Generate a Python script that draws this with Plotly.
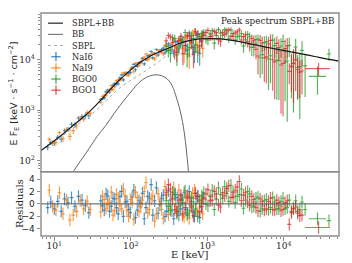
import plotly.graph_objects as go

# ---------------- model curves ----------------
tot_E = [6.3, 8, 10, 13, 17, 23, 30, 40, 52, 70, 95, 128, 174, 235, 318, 430, 580, 800, 1070, 1500, 2000, 3560, 6500, 11900, 20000, 30000, 52000]
tot_F = [150, 195, 250, 340, 480, 700, 1000, 1550, 2450, 3900, 5900, 8500, 11500, 14300, 17300, 21000, 24000, 25800, 26200, 25900, 24500, 20900, 17300, 14500, 12500, 11000, 9400]
bb_E = [14, 17.5, 22, 28.4, 36, 47, 60, 77.6, 100, 128, 160, 200, 240, 280, 318, 350, 388, 430, 474, 520, 569, 600]
bb_F = [35, 60, 100, 174, 300, 499, 850, 1435, 2300, 3540, 4500, 5000, 4950, 4500, 3800, 3000, 1950, 1150, 600, 230, 60, 30]
sbpl_E = [6.3, 10, 13, 17, 23, 30, 40, 52, 70, 95, 128, 174, 235, 318, 430, 580, 800, 1070, 1500, 2000, 3560, 6500, 11900, 20000, 30000, 52000]
sbpl_F = [150, 250, 320, 430, 610, 820, 1180, 1780, 2700, 3750, 4960, 6800, 9350, 13500, 19850, 23900, 25800, 26200, 25900, 24500, 20900, 17300, 14500, 12500, 11000, 9400]

# ---------------- NaI6 ----------------
nai6_E = [8.2, 9.0, 10.0, 11.1, 12.3, 13.6, 15.1, 16.8, 18.6, 20.7, 23.0, 25.5, 28.3,
          40.5, 45, 50, 55.5, 61.6, 68.4, 76, 84.3, 93.6, 104,
          115, 128, 142, 158, 175, 194, 216, 240, 266, 295,
          328, 364, 404, 448, 498, 552, 613, 681, 756, 839,
          42.7, 47.5, 52.7, 58.5, 65, 72, 80, 89, 98.7, 109.5,
          121.5, 135, 150, 166.5, 184.5, 205, 227.5, 252.5, 280, 311,
          345, 383, 425, 472, 524, 581, 645, 716, 795, 870]
nai6_F = [186, 230, 226, 293, 270, 395, 420, 532, 509, 698, 750, 781, 782,
          1635, 1767, 2509, 2624, 3379, 3357, 5016, 5207, 5435, 7108,
          6345, 8798, 10630, 10060, 12225, 10925, 15957, 14297, 17019, 15114,
          18974, 13457, 22624, 19436, 27360, 15745, 26438, 14000, 32232, 23051,
          1700, 2324, 2292, 3131, 3324, 4390, 4016, 5551, 5574, 8101,
          7412, 9085, 8270, 11978, 14604, 13403, 12494, 15902, 13726, 20643,
          15832, 23010, 16346, 23477, 18803, 33600, 17550, 30166, 13302, 31598]
nai6_err = [24, 27, 30, 34, 38, 43, 49, 57, 64, 73, 84, 97, 113,
            111, 133, 161, 189, 224, 265, 308, 357, 406, 462,
            525, 595, 665, 735, 805, 875, 945, 1015, 1085, 1155,
            2124, 2268, 2424, 2580, 2700, 5170, 5346, 5500, 5610, 5698,
            122, 146, 175, 206, 243, 284, 327, 378, 433, 491,
            558, 627, 696, 774, 840, 907, 977, 1047, 1117, 1706,
            2189, 2340, 2502, 2628, 4586, 4800, 5408, 5540, 5672, 5698]
nai6_res = [-0.6, 0.3, -0.8, 0.4, -1.2, 0.8, 0.2, 1.0, -0.4, 1.2, 0.6, -0.3, -1.4,
            0.5, -1.0, 1.3, -0.4, 0.8, -1.6, 2.0, 0.3, -0.9, 1.1,
            -2.2, 0.5, 1.7, -0.6, 0.9, -1.8, 2.6, -0.2, 1.4, -1.2,
            0.6, -2.4, 1.0, -0.8, 1.8, -1.5, 0.4, -2.0, 1.2, -0.5,
            -0.3, 1.6, -1.2, 0.9, -0.6, 1.2, -2.0, 0.4, -1.4, 2.2,
            -1.0, 0.2, -2.4, 1.2, 3.1, 0.5, -1.5, 0.9, -2.0, 2.1,
            -1.1, 1.5, -1.8, 0.6, -0.9, 2.0, -1.3, 0.9, -2.2, 1.0]

# ---------------- NaI9 ----------------
nai9_E = [8.6, 9.5, 10.5, 11.7, 13.0, 14.4, 16.0, 17.7, 19.6, 21.8, 24.2, 26.9, 29.5,
          42.7, 47.5, 52.7, 58.5, 65, 72, 80, 89, 98.7, 109.5,
          121.5, 135, 150, 166.5, 184.5, 205, 227.5, 252.5, 280, 311,
          345, 383, 425, 472, 524, 581, 645, 716, 795, 870,
          40.5, 45, 50, 55.5, 61.6, 68.4, 76, 84.3, 93.6, 104,
          115, 128, 142, 158, 175, 194, 216, 240, 266, 295,
          328, 364, 404, 448, 498, 552, 613, 681, 756, 839]
nai9_F = [267, 225, 233, 365, 275, 415, 305, 396, 491, 694, 677, 905, 871,
          1882, 1988, 2537, 2574, 3834, 3965, 5455, 4984, 6483, 5792,
          8528, 8646, 11332, 9967, 12672, 10412, 15524, 14018, 19088, 15030,
          20648, 18564, 26354, 16907, 27470, 11856, 33773, 19640, 27481, 16783,
          1436, 1993, 2268, 3059, 2954, 4018, 4154, 5564, 4988, 6739,
          8498, 7786, 9899, 12999, 10776, 13550, 11988, 14906, 13005, 18975,
          16213, 24797, 17049, 23564, 13050, 30080, 21092, 37100, 17646, 29319]
nai9_err = [25, 28, 32, 36, 41, 46, 53, 61, 69, 79, 90, 104, 117,
            122, 146, 175, 206, 243, 284, 327, 378, 433, 491,
            558, 627, 696, 774, 840, 907, 977, 1047, 1117, 1194,
            2189, 2340, 2502, 2628, 5045, 5280, 5408, 5540, 5672, 5698,
            111, 133, 161, 189, 224, 265, 308, 357, 406, 462,
            525, 595, 665, 735, 805, 875, 945, 1015, 1085, 1650,
            2124, 2268, 2424, 2580, 4500, 4700, 5346, 5500, 5610, 5698]
nai9_res = [2.2, -0.4, -1.0, 1.8, -1.6, 0.6, -2.6, -1.8, -1.2, 0.5, -0.8, 0.4, -0.9,
            1.2, -0.7, 0.2, -1.8, 1.5, -0.3, 2.4, -1.1, 0.7, -2.5,
            1.0, -0.5, 2.0, -1.4, 0.8, -2.8, 1.6, -0.9, 2.8, -1.7,
            1.1, -0.4, 2.2, -1.9, 0.9, -2.3, 1.7, -1.0, 0.3, -1.6,
            -1.3, 0.7, -0.2, 1.9, -1.1, 0.9, -0.8, 1.3, -2.0, 0.3,
            1.9, -1.2, 0.6, 3.4, -0.9, 1.2, -1.6, 0.4, -2.3, 1.5,
            -0.7, 2.6, -1.3, 0.8, -2.1, 1.4, -0.6, 2.2, -1.4, 0.6]

# ---------------- BGO0 ----------------
bgo0_E = [290, 330, 375, 425, 480, 545, 620, 700, 795, 900,
          1020, 1160, 1310, 1490, 1690, 1910, 2170, 2460, 2790, 3160,
          3580, 4060, 4600, 5220, 5920, 6710, 7610, 8630, 9780, 11100,
          12600, 14300, 16200, 19000,
          310, 352, 400, 453, 513, 582, 660, 748, 848, 960,
          1090, 1235, 1400, 1590, 1800, 2040, 2315, 2625, 2975, 3370,
          3820, 4330, 4910, 5570, 6310, 7160, 8110, 9200, 10400, 11800,
          13400, 15200, 17300]
bgo0_F = [18371, 13290, 26455, 18244, 23153, 12837, 30450, 20032, 28874, 35306,
          24581, 37627, 30183, 33670, 39484, 26698, 33051, 28682, 33063, 24829,
          29218, 17662, 25656, 12607, 22797, 11998, 18998, 9558, 22963, 9466,
          7415, 17888, 7304, 7550,
          15327, 27229, 12531, 25251, 34648, 17400, 26563, 14230, 33282, 26050,
          32488, 21377, 39459, 30220, 33500, 38992, 24471, 29549, 18570, 31815,
          17578, 24956, 10962, 21792, 10400, 24389, 9726, 18768, 9054, 19325,
          8622, 7025, 15387]
bgo0_err = [4083, 4430, 4810, 5213, 5513, 5835, 6090, 6260, 5156, 5192,
            5230, 5226, 5204, 5180, 5062, 4944, 4790, 4626, 4468, 5398,
            5218, 6021, 5787, 7416, 7124, 8570, 8260, 7965, 8448, 8874,
            5704, 8256, 6640, 5711,
            4258, 4615, 5013, 5373, 5680, 6000, 6178, 5590, 5694, 5210,
            5240, 5214, 5192, 5122, 5000, 4874, 4706, 4546, 4829, 5303,
            5723, 5895, 6615, 7264, 7866, 7569, 8105, 7820, 7545, 7992,
            7711, 5404, 7824]
bgo0_res = [0.5, -1.0, 1.5, -0.5, 0.2, -1.8, 1.0, -0.8, 0.6, 1.8,
            -0.3, 2.2, 0.8, 1.5, 2.8, 0.4, 1.9, 1.2, 2.4, 0.6,
            1.6, -0.4, 1.1, -0.8, 0.7, -0.6, 0.3, -0.8, 0.9, -0.6,
            -1.2, 0.5, -0.9, -0.9,
            -0.4, 1.9, -1.5, 0.7, 2.1, -1.1, 0.3, -2.0, 1.3, 0.0,
            1.2, -0.9, 2.6, 0.9, 1.7, 3.0, 0.2, 1.5, -0.7, 2.0,
            -0.5, 0.9, -1.2, 0.5, -0.9, 1.0, -0.8, 0.4, -0.8, 0.6,
            -0.7, -1.2, 0.3]
bgo0w_E = [27600, 39000]
bgo0w_F = [4706, 13000]
bgo0w_err = [2664, 3500]
bgo0w_lo = [6400, 2500]
bgo0w_hi = [8300, 2500]
bgo0w_res = [-2.4, -2.7]

# ---------------- BGO1 ----------------
bgo1_E = [310, 352, 400, 453, 513, 582, 660, 748, 848, 960,
          1090, 1235, 1400, 1590, 1800, 2040, 2315, 2625, 2975, 3370,
          3820, 4330, 4910, 5570, 6310, 7160, 8110, 9200, 10400, 11800,
          13400, 15200, 17300,
          290, 330, 375, 425, 480, 545, 620, 700, 795, 900,
          1020, 1160, 1310, 1490, 1690, 1910, 2170, 2460, 2790, 3160,
          3580, 4060, 4600, 5220, 5920, 6710, 7610, 8630, 9780, 11100,
          12600, 14300, 16200]
bgo1_F = [30228, 22152, 14035, 29012, 19312, 29400, 12974, 32119, 23603, 34386,
          28820, 36498, 24922, 34830, 37500, 29244, 33883, 39095, 28710, 22801,
          26572, 16113, 24192, 10896, 20626, 10008, 21073, 7899, 16750, 5900,
          8412, 6418, 6000,
          23679, 28352, 14911, 23978, 13230, 29758, 22533, 35682, 18974, 30114,
          38179, 29266, 34346, 23310, 31891, 39058, 29219, 35620, 24574, 31306,
          19826, 24285, 11863, 21506, 11399, 24082, 9086, 17523, 8448, 18857,
          7272, 9976, 5711]
bgo1_err = [4258, 4615, 5013, 5373, 5680, 6000, 6178, 5590, 5694, 5210,
            5240, 5214, 5192, 5122, 5000, 4874, 4706, 4546, 4829, 5303,
            5110, 5895, 6615, 7264, 7866, 7569, 8105, 7038, 8300, 2615,
            7010, 4729, 3912,
            4083, 4430, 4810, 5213, 5513, 5835, 6090, 6260, 5672, 5192,
            5230, 5226, 5204, 5180, 5062, 4944, 4790, 4626, 4468, 5398,
            5218, 6021, 6752, 7416, 8015, 7713, 7434, 7965, 7680, 8135,
            4991, 7568, 3984]
bgo1_res = [3.1, 0.8, -1.2, 1.4, -0.6, 0.9, -1.9, 1.2, -0.4, 1.6,
            0.5, 2.0, -0.2, 1.8, 2.5, 1.0, 2.2, 3.6, 1.4, 0.3,
            1.2, -0.6, 0.8, -1.0, 0.4, -0.9, 0.6, -1.1, 0.2, -3.3,
            -0.8, -1.5, -1.8,
            1.8, 2.4, -0.9, 0.6, -1.6, 1.1, -0.3, 1.7, -1.2, 0.8,
            2.3, 0.6, 1.6, -0.5, 1.3, 2.9, 1.1, 2.7, 0.5, 1.8,
            -0.2, 0.7, -1.1, 0.4, -0.8, 0.9, -1.0, 0.2, -0.9, 0.5,
            -1.4, -0.5, -1.9]
bgo1w_E = [28500]
bgo1w_F = [6700]
bgo1w_err = [1900]
bgo1w_lo = [9500]
bgo1w_hi = [11500]
bgo1w_res = [-3.8]

legend_names = ["SBPL+BB", "BB", "SBPL", "NaI6", "NaI9", "BGO0", "BGO1"]
y_ticks = [100, 1000, 10000]
y_ticktext = ["10<sup>2</sup>", "10<sup>3</sup>", "10<sup>4</sup>"]
x_ticks = [10, 100, 1000, 10000]
x_ticktext = ["10<sup>1</sup>", "10<sup>2</sup>", "10<sup>3</sup>", "10<sup>4</sup>"]
r_ticks = [-4, -2, 0, 2, 4]
r_ticktext = ["\u22124", "\u22122", "0", "2", "4"]

# ---------------- styling ----------------
W, H = 352, 263
L, R, T, B = 41, 339.3, 12.7, 238.3   # plot area in px
SPLIT = 0.288
C_BLUE = "rgba(31,119,180,0.78)"
C_ORANGE = "rgba(255,127,14,0.78)"
C_GREEN = "rgba(44,160,44,0.78)"
C_RED = "rgba(214,39,40,0.72)"
SPINE = "#8c8c8c"
TXT = "#262626"
SERIF = "DejaVu Serif"
SANS = "DejaVu Sans"


def px(xp):
    return (xp - L) / (R - L)


def py(yp):
    return (B - yp) / (B - T)


fig = go.Figure()


def add_det(E, F, err, res, color, pct=None, lo=None, hi=None):
    if pct is not None:
        ex = dict(type="percent", value=pct, color=color, thickness=1.15, width=0)
    else:
        ex = dict(type="data", symmetric=False, array=hi, arrayminus=lo,
                  color=color, thickness=1.15, width=0)
    mk = dict(size=2, color="rgba(0,0,0,0)")
    fig.add_trace(go.Scatter(x=E, y=F, xaxis="x", yaxis="y", mode="markers", marker=mk,
                             showlegend=False, hoverinfo="skip",
                             error_y=dict(type="data", array=err, color=color, thickness=1.15, width=0),
                             error_x=ex))
    fig.add_trace(go.Scatter(x=E, y=res, xaxis="x", yaxis="y2", mode="markers", marker=mk,
                             showlegend=False, hoverinfo="skip",
                             error_y=dict(type="constant", value=1, color=color, thickness=1.15, width=0),
                             error_x=ex))


add_det(nai6_E, nai6_F, nai6_err, nai6_res, C_BLUE, pct=5.5)
add_det(nai9_E, nai9_F, nai9_err, nai9_res, C_ORANGE, pct=5.5)
add_det(bgo0_E, bgo0_F, bgo0_err, bgo0_res, C_GREEN, pct=6)
add_det(bgo0w_E, bgo0w_F, bgo0w_err, bgo0w_res, C_GREEN, lo=bgo0w_lo, hi=bgo0w_hi)
add_det(bgo1_E, bgo1_F, bgo1_err, bgo1_res, C_RED, pct=6)
add_det(bgo1w_E, bgo1w_F, bgo1w_err, bgo1w_res, C_RED, lo=bgo1w_lo, hi=bgo1w_hi)

# model lines
fig.add_trace(go.Scatter(x=sbpl_E, y=sbpl_F, xaxis="x", yaxis="y", mode="lines", showlegend=False,
                         line=dict(color="#a8a8a8", width=1, dash="dot", shape="spline")))
fig.add_trace(go.Scatter(x=bb_E, y=bb_F, xaxis="x", yaxis="y", mode="lines", showlegend=False,
                         line=dict(color="#555555", width=0.9, shape="spline")))
fig.add_trace(go.Scatter(x=tot_E, y=tot_F, xaxis="x", yaxis="y", mode="lines", showlegend=False,
                         line=dict(color="#1a1a1a", width=1.2, shape="spline")))

minor_log_x = [m * 10 ** k for k in range(0, 5) for m in range(2, 10)]
minor_log_y = [m * 10 ** k for k in range(1, 5) for m in range(2, 10)]

shapes = []
# zero line in residual panel
shapes.append(dict(type="line", xref="x domain", yref="y2", x0=0, x1=1, y0=0, y1=0,
                   line=dict(color="#555555", width=1), layer="above"))
# panel frames
shapes.append(dict(type="rect", xref="paper", yref="paper", x0=0, x1=1, y0=SPLIT, y1=1,
                   line=dict(color=SPINE, width=1.4), layer="above"))
shapes.append(dict(type="rect", xref="paper", yref="paper", x0=0, x1=1, y0=0, y1=SPLIT,
                   line=dict(color=SPINE, width=1.4), layer="above"))

# manual legend
ann = []
leg_y = [23.0, 34.3, 45.6, 56.9, 68.2, 79.5, 90.8]
line_styles = [dict(color="#333333", width=1.3), dict(color="#666666", width=1),
               dict(color="#aaaaaa", width=1, dash="dot")]
for i in range(3):
    shapes.append(dict(type="line", xref="paper", yref="paper", x0=px(48), x1=px(63),
                       y0=py(leg_y[i]), y1=py(leg_y[i]), line=line_styles[i]))
for i, c in enumerate([C_BLUE, C_ORANGE, C_GREEN, C_RED]):
    yy = leg_y[3 + i]
    shapes.append(dict(type="line", xref="paper", yref="paper", x0=px(51.3), x1=px(60.7),
                       y0=py(yy), y1=py(yy), line=dict(color=c, width=1.4)))
    shapes.append(dict(type="line", xref="paper", yref="paper", x0=px(56), x1=px(56),
                       y0=py(yy - 4.7), y1=py(yy + 4.7), line=dict(color=c, width=1.4)))
for i, name in enumerate(legend_names):
    ann.append(dict(text=name, xref="paper", yref="paper", x=px(70), y=py(leg_y[i]),
                    xanchor="left", yanchor="middle", showarrow=False,
                    font=dict(family=SERIF, size=8.3, color=TXT)))

ann.append(dict(text="Peak spectrum SBPL+BB", xref="paper", yref="paper", x=px(336.5), y=py(20.7),
                xanchor="right", yanchor="middle", showarrow=False,
                font=dict(family=SERIF, size=8.8, color=TXT)))
ann.append(dict(text="E F<sub>E</sub> [keV \u00b7 s<sup>\u22121</sup> \u00b7 cm<sup>\u22122</sup>]",
                xref="paper", yref="paper", x=px(14), y=py(94), textangle=-90,
                xanchor="center", yanchor="middle", showarrow=False,
                font=dict(family=SANS, size=9.5, color=TXT)))
ann.append(dict(text="Residuals", xref="paper", yref="paper", x=px(19), y=py(206), textangle=-90,
                xanchor="center", yanchor="middle", showarrow=False,
                font=dict(family=SERIF, size=10, color=TXT)))
ann.append(dict(text="E [keV]", xref="paper", yref="paper", x=px(190), y=py(257.5),
                xanchor="center", yanchor="middle", showarrow=False,
                font=dict(family=SERIF, size=10, color=TXT)))

fig.update_layout(
    width=W, height=H, margin=dict(l=L, r=W - R, t=T, b=H - B),
    paper_bgcolor="white", plot_bgcolor="white", showlegend=False,
    xaxis=dict(type="log", range=[0.826, 4.722], domain=[0, 1], anchor="y2",
               showline=False, showgrid=False, zeroline=False,
               ticks="outside", ticklen=3.5, tickwidth=1, tickcolor=SPINE,
               tickvals=x_ticks, ticktext=x_ticktext, ticklabelstandoff=-2,
               tickfont=dict(family=SERIF, size=9, color=TXT),
               minor=dict(tickvals=minor_log_x, ticks="outside", ticklen=2, tickcolor=SPINE, tickwidth=0.8)),
    yaxis=dict(type="log", range=[1.785, 4.925], domain=[SPLIT, 1], anchor="x",
               showline=False, showgrid=False, zeroline=False,
               ticks="outside", ticklen=3.5, tickwidth=1, tickcolor=SPINE,
               tickvals=y_ticks, ticktext=y_ticktext,
               tickfont=dict(family=SERIF, size=9, color=TXT),
               minor=dict(tickvals=minor_log_y, ticks="outside", ticklen=2, tickcolor=SPINE, tickwidth=0.8)),
    yaxis2=dict(range=[-5.17, 5.17], domain=[0, SPLIT], anchor="x",
                showline=False, showgrid=False, zeroline=False,
                ticks="outside", ticklen=3.5, tickwidth=1, tickcolor=SPINE,
                tickvals=r_ticks, ticktext=r_ticktext,
                tickfont=dict(family=SANS, size=9, color=TXT)),
    shapes=shapes, annotations=ann)

fig.write_html("out.html", config={"displayModeBar": False},
               post_script="document.body.style.margin='0';document.body.style.padding='0';")
